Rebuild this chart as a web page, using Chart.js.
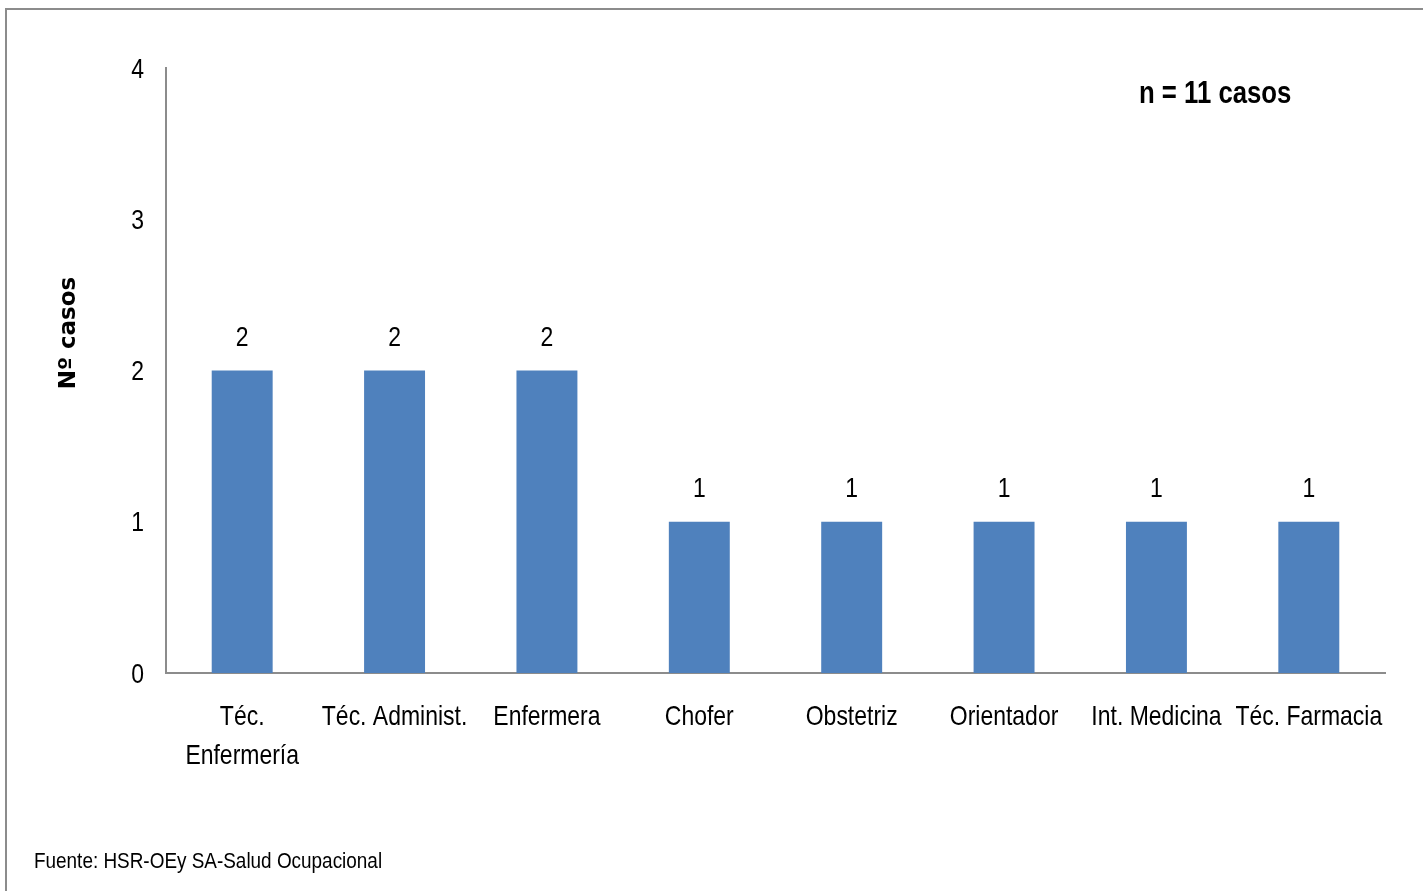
<!DOCTYPE html>
<html>
<head>
<meta charset="utf-8">
<script src="https://cdn.jsdelivr.net/npm/chart.js@4/dist/chart.umd.min.js"></script>
<style>
    html, body { margin: 0; padding: 0; background: #fff; }
    #wrap { position: relative; width: 1423px; height: 891px; overflow: hidden; }
    #frame { position: absolute; left: 5px; top: 8px; width: 2000px; height: 2000px; border: 2px solid #8c8c8c; }
    #chart { position: absolute; left: 0; top: 0; }
</style>
</head>
<body>
<div id="wrap">
    <div id="frame"></div>
    <canvas id="chart" width="1423" height="891"></canvas>
</div>
<script>
// Chart data
const categories = [
    ['Téc.', 'Enfermería'],
    'Téc. Administ.',
    'Enfermera',
    'Chofer',
    'Obstetriz',
    'Orientador',
    'Int. Medicina',
    'Téc. Farmacia'
];
const casos = [2, 2, 2, 1, 1, 1, 1, 1];
const yTicks = [0, 1, 2, 3, 4];

const sans = '"Liberation Sans", Arial, sans-serif';
const axisGray = '#8c8c8c';

// no narrow font installed, so squeeze Liberation Sans horizontally
function narrowText(ctx, text, x, y, sx) {
    ctx.save();
    ctx.translate(x, y);
    ctx.scale(sx, 1);
    ctx.fillText(text, 0, 0);
    ctx.restore();
}

// Tick labels, value labels and free text
const annotations = {
    id: 'annotations',
    afterDatasetsDraw(chart) {
        const ctx = chart.ctx;
        const xScale = chart.scales.x;
        const yScale = chart.scales.y;
        const meta = chart.getDatasetMeta(0);
        ctx.save();
        ctx.fillStyle = '#000';
        ctx.textBaseline = 'middle';

        // y tick labels
        ctx.font = '28px ' + sans;
        ctx.textAlign = 'right';
        yTicks.forEach(v => {
            narrowText(ctx, String(v), 144, yScale.getPixelForValue(v) + 2, 0.82);
        });

        // x tick labels
        ctx.textAlign = 'center';
        categories.forEach((lab, i) => {
            const lines = Array.isArray(lab) ? lab : [lab];
            const x = xScale.getPixelForValue(i);
            lines.forEach((line, j) => {
                narrowText(ctx, line, x, xScale.top + 44 + j * 39, 0.82);
            });
        });

        // values above bars
        meta.data.forEach((bar, i) => {
            narrowText(ctx, String(casos[i]), bar.x, bar.y - 32, 0.82);
        });

        // n = 11 casos
        ctx.font = 'bold 31px ' + sans;
        ctx.textAlign = 'left';
        narrowText(ctx, 'n = 11 casos', 1139, 94, 0.83);

        // y axis title
        ctx.save();
        ctx.translate(69, 333);
        ctx.rotate(-Math.PI / 2);
        ctx.font = 'bold 23px "DejaVu Sans", sans-serif';
        ctx.textAlign = 'center';
        ctx.fillText('Nº casos', 0, 0);
        ctx.restore();

        // source
        ctx.font = '22px ' + sans;
        ctx.textAlign = 'left';
        narrowText(ctx, 'Fuente: HSR-OEy SA-Salud Ocupacional', 34, 862, 0.86);
        ctx.restore();
    }
};

const chart = new Chart(document.getElementById('chart'), {
    type: 'bar',
    data: {
        labels: categories,
        datasets: [{
            data: casos,
            backgroundColor: '#4F81BD',
            borderWidth: 0,
            barPercentage: 0.4,
            categoryPercentage: 1.0
        }]
    },
    options: {
        responsive: false,
        animation: false,
        layout: {
            padding: { left: 0, top: 68, right: 38, bottom: 88 }
        },
        plugins: {
            legend: { display: false },
            tooltip: { enabled: false }
        },
        scales: {
            x: {
                grid: { display: false },
                border: { display: true, color: axisGray, width: 2 },
                ticks: { display: false },
                afterFit(scale) { scale.height = 130; }
            },
            y: {
                min: 0,
                max: 4,
                grid: { display: false },
                border: { display: true, color: axisGray, width: 2 },
                ticks: { display: false, stepSize: 1 },
                afterFit(scale) { scale.width = 166; }
            }
        }
    },
    plugins: [annotations]
});
</script>
</body>
</html>
